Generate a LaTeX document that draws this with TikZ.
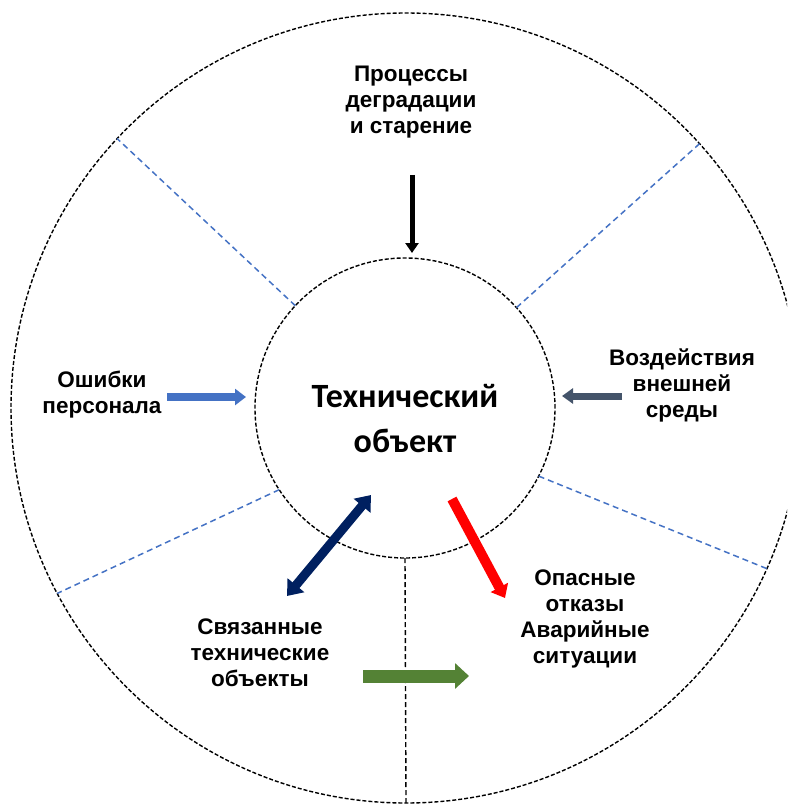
\documentclass[tikz,border=0pt]{standalone}
\usepackage{fontspec}
\setmainfont{Liberation Sans}
\newfontfamily\calfont{Carlito}
\usetikzlibrary{arrows.meta}
\definecolor{secblue}{HTML}{4472C4}
\definecolor{slate}{HTML}{44546A}
\definecolor{navy}{HTML}{002060}
\definecolor{grn}{HTML}{548235}
\begin{document}
\begin{tikzpicture}[x=1pt,y=-1pt,
  lbl/.style={font=\bfseries\fontsize{22.5}{26}\selectfont, align=center, inner sep=0pt},
  ring/.style={circle, draw=black, dash pattern=on 4pt off 2pt, line width=1.4pt, outer sep=0pt, inner sep=0pt},
  sector/.style={draw=secblue, dash pattern=on 6pt off 4pt, line width=1.5pt},
  fat/.style={line width=#1}]
\useasboundingbox (0,0) rectangle (787,805);
\clip (0,0) rectangle (787,805);

% rings
\node[ring, minimum size=790pt] (outer) at (406,408) {};
\node[ring, minimum size=300pt] (obj) at (405,408) {};
\node[font=\calfont\bfseries\fontsize{34}{45}\selectfont, align=center, inner sep=0pt] (objtext) at (405,419) {Технический\\объект};

% sector borders
\draw[sector] (obj.137) -- (outer.137);
\draw[sector] (obj.42) -- (outer.42);
\draw[sector] (obj.213.6) -- (outer.208.6);
\draw[sector] (obj.-27.1) -- (outer.-24.9);
\draw[black, dash pattern=on 5pt off 3pt, line width=1.4pt] (obj.270) -- (outer.270);

% labels
\node[lbl] (degr) at (411,102) {Процессы\\деградации\\и старение};
\node[lbl] (pers) at (102,395) {Ошибки\\персонала};
\node[lbl] (env) at (682,385) {Воздействия\\внешней\\среды};
\node[lbl] (linked) at (260,653) {Связанные\\технические\\объекты};
\node[lbl] (haz) at (585,619) {Опасные\\отказы\\Аварийные\\ситуации};

% arrow end points
\coordinate (a1s) at (412,175); \coordinate (a1e) at (412,253);
\coordinate (a2s) at (167,397); \coordinate (a2e) at (246,397);
\coordinate (a3s) at (622,396); \coordinate (a3e) at (562,396);
\coordinate (a4s) at (287,596); \coordinate (a4e) at (371,495);
\coordinate (a5s) at (452,499); \coordinate (a5e) at (505,598);
\coordinate (a6s) at (363,676); \coordinate (a6e) at (469,676);

% influence arrows
\draw[fat=5pt, black, -{Triangle[length=10pt,width=13pt]}] (a1s) -- (a1e);
\draw[fat=8pt, secblue, -{Triangle[length=11pt,width=16pt]}] (a2s) -- (a2e);
\draw[fat=7pt, slate, -{Triangle[length=11pt,width=15pt]}] (a3s) -- (a3e);
\draw[fat=9pt, navy, {Triangle[length=14pt,width=21pt]}-{Triangle[length=14pt,width=21pt]}] (a4s) -- (a4e);
\draw[fat=10pt, red, -{Triangle[length=12pt,width=19pt]}] (a5s) -- (a5e);
\draw[fat=13pt, grn, -{Triangle[length=14pt,width=25pt]}] (a6s) -- (a6e);
\end{tikzpicture}
\end{document}
